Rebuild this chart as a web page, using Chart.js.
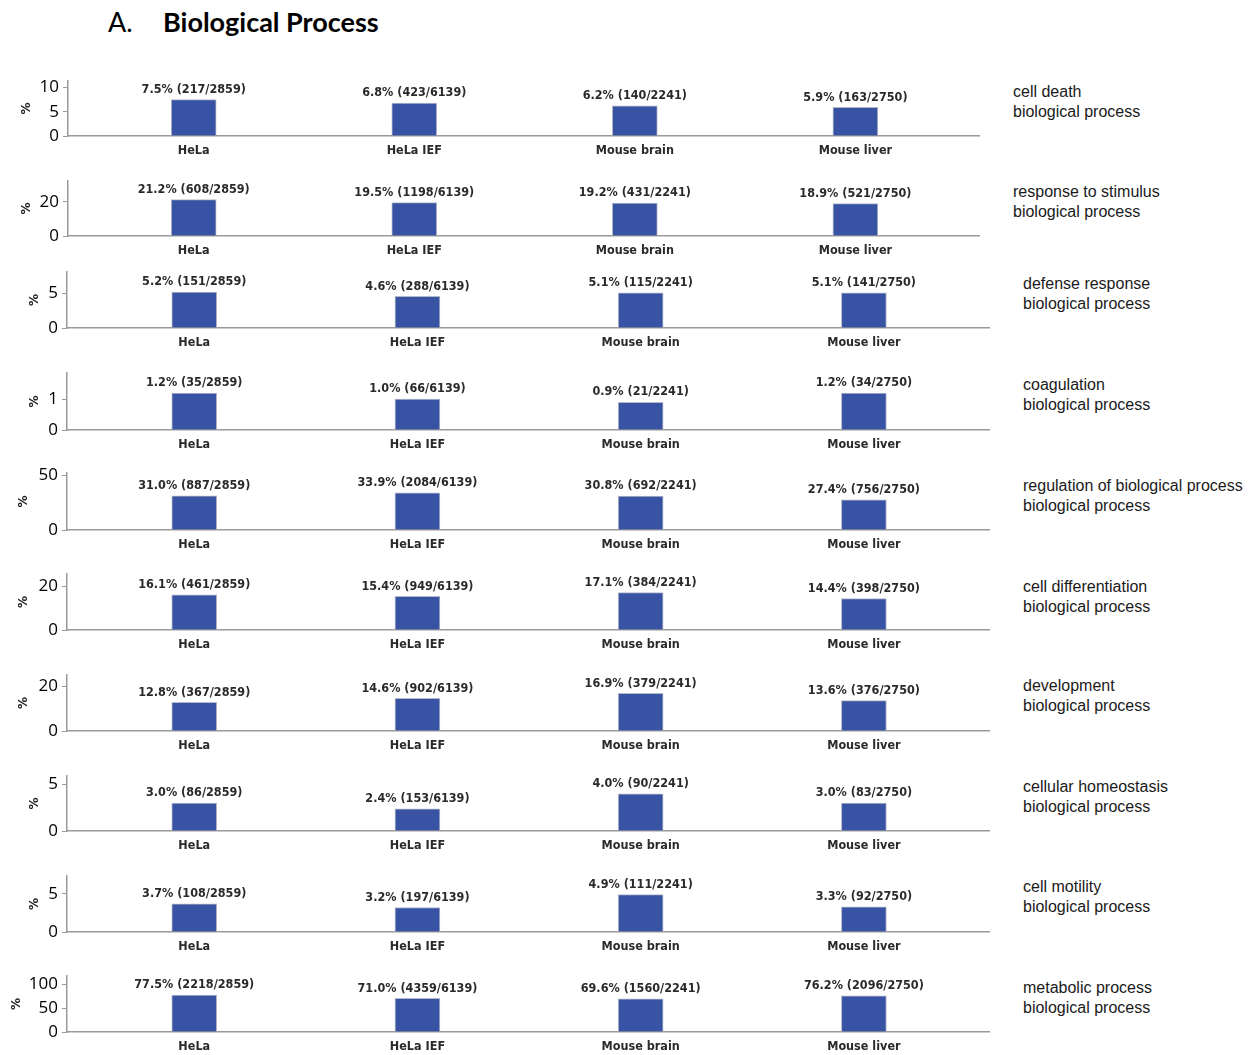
<!DOCTYPE html>
<html>
<head>
<meta charset="utf-8">
<title>Biological Process</title>
<script src="https://cdn.jsdelivr.net/npm/chart.js@4.4.1/dist/chart.umd.min.js"></script>
<style>
    body {
        margin: 0;
        background: #fff;
        width: 1254px;
        height: 1055px;
        position: relative;
        overflow: hidden;
    }
    .heading {
        position: absolute;
        top: 5px;
        font-family: Lato, "Open Sans", sans-serif;
        font-size: 27px;
        line-height: 34px;
        color: #000;
    }
    .panel {
        position: absolute;
        left: 0;
    }
    .term {
        position: absolute;
        font-family: "Liberation Sans", Arial, sans-serif;
        font-size: 16px;
        line-height: 20px;
        color: #1a1a1a;
        white-space: nowrap;
    }
</style>
</head>
<body>
<div class="heading" style="left:108px">A.</div>
<div class="heading" style="left:163px;font-weight:bold">Biological Process</div>
<div id="panels"></div>

<script>
// samples and their protein totals
const categories = ['HeLa', 'HeLa IEF', 'Mouse brain', 'Mouse liver'];
const totals = [2859, 6139, 2241, 2750];

// GO terms, one panel each
const terms = [
    'cell death',
    'response to stimulus',
    'defense response',
    'coagulation',
    'regulation of biological process',
    'cell differentiation',
    'development',
    'cellular homeostasis',
    'cell motility',
    'metabolic process'
];

// percent of proteins per sample, and the matching counts
const cellDeathPct = [7.5, 6.8, 6.2, 5.9];
const cellDeathCount = [217, 423, 140, 163];
const stimulusPct = [21.2, 19.5, 19.2, 18.9];
const stimulusCount = [608, 1198, 431, 521];
const defensePct = [5.2, 4.6, 5.1, 5.1];
const defenseCount = [151, 288, 115, 141];
const coagulationPct = [1.2, 1.0, 0.9, 1.2];
const coagulationCount = [35, 66, 21, 34];
const regulationPct = [31.0, 33.9, 30.8, 27.4];
const regulationCount = [887, 2084, 692, 756];
const differentiationPct = [16.1, 15.4, 17.1, 14.4];
const differentiationCount = [461, 949, 384, 398];
const developmentPct = [12.8, 14.6, 16.9, 13.6];
const developmentCount = [367, 902, 379, 376];
const homeostasisPct = [3.0, 2.4, 4.0, 3.0];
const homeostasisCount = [86, 153, 90, 83];
const motilityPct = [3.7, 3.2, 4.9, 3.3];
const motilityCount = [108, 197, 111, 92];
const metabolicPct = [77.5, 71.0, 69.6, 76.2];
const metabolicCount = [2218, 4359, 1560, 2096];

const pctSeries = [cellDeathPct, stimulusPct, defensePct, coagulationPct, regulationPct,
    differentiationPct, developmentPct, homeostasisPct, motilityPct, metabolicPct];
const countSeries = [cellDeathCount, stimulusCount, defenseCount, coagulationCount, regulationCount,
    differentiationCount, developmentCount, homeostasisCount, motilityCount, metabolicCount];

// y axis range and tick labels per panel
const yAxisMax = [11.3, 32, 8.1, 1.84, 51.7, 25.5, 25, 5.9, 7.3, 117.5];
const yAxisTicks = [[0, 5, 10], [0, 20], [0, 5], [0, 1], [0, 50], [0, 20], [0, 20], [0, 5], [0, 5], [0, 50, 100]];

// page layout of each panel
const panelTop = [77, 177, 268, 369, 469, 570, 671, 772, 872, 972];
const panelBottom = [136, 236, 328, 430, 530, 630, 731, 831, 932, 1032];
const axisLeft = [68, 68, 67, 67, 67, 67, 67, 67, 67, 67];
const axisRight = [980, 980, 990, 990, 990, 990, 990, 990, 990, 990];
const percentX = [27, 27, 35, 35, 24, 24, 24, 35, 35, 17];
const termLeft = [1013, 1013, 1023, 1023, 1023, 1023, 1023, 1023, 1023, 1023];
const termTop = [82, 182, 274, 375, 476, 577, 676, 777, 877, 978];

const labelFont = '"DejaVu Sans Condensed", "DejaVu Sans", sans-serif';

const barLabels = {
    id: 'barLabels',
    afterDatasetsDraw(chart, args, opts) {
        const ctx = chart.ctx;
        const meta = chart.getDatasetMeta(0);
        ctx.save();
        ctx.font = 'bold 12.5px ' + labelFont;
        ctx.fillStyle = '#2a2a2a';
        ctx.textAlign = 'center';
        ctx.textBaseline = 'middle';
        meta.data.forEach(function (bar, i) {
            ctx.fillText(opts.texts[i], bar.x, bar.y - 10);
        });
        ctx.restore();
    }
};

document.addEventListener('DOMContentLoaded', function () {
    drawCharts();
    drawTerms();
});

function drawCharts() {
    const holder = document.getElementById('panels');

    terms.forEach(function (term, p) {
        const pct = pctSeries[p];
        const counts = countSeries[p];
        const height = 10 + (panelBottom[p] - panelTop[p]) + 30;

        const canvas = document.createElement('canvas');
        canvas.className = 'panel';
        canvas.width = axisRight[p];
        canvas.height = height;
        canvas.style.top = (panelTop[p] - 10) + 'px';
        holder.appendChild(canvas);

        const texts = pct.map(function (v, i) {
            return v.toFixed(1) + '% (' + counts[i] + '/' + totals[i] + ')';
        });

        new Chart(canvas, {
            type: 'bar',
            data: {
                datasets: [{
                    label: term,
                    data: pct.map(function (v, i) { return { x: i, y: v }; }),
                    backgroundColor: '#3953A4',
                    borderColor: '#b4b9c8',
                    borderWidth: 1,
                    barThickness: 45
                }]
            },
            plugins: [barLabels],
            options: {
                responsive: false,
                animation: false,
                layout: {
                    padding: { top: 10, right: 0, bottom: 0, left: 0 }
                },
                plugins: {
                    legend: { display: false },
                    tooltip: { enabled: false },
                    barLabels: { texts: texts }
                },
                scales: {
                    x: {
                        type: 'linear',
                        offset: false,
                        min: -0.57,
                        max: 3.565,
                        afterBuildTicks: function (scale) {
                            scale.ticks = categories.map(function (c, i) { return { value: i }; });
                        },
                        afterFit: function (scale) {
                            scale.height = 30;
                        },
                        grid: { display: false, drawTicks: false },
                        border: { display: true, color: '#9a9a9a', width: 1.5 },
                        ticks: {
                            padding: 7,
                            color: '#2a2a2a',
                            font: { family: labelFont, size: 12.5, weight: 'bold' },
                            callback: function (v) { return categories[v]; }
                        }
                    },
                    y: {
                        min: 0,
                        max: yAxisMax[p],
                        afterBuildTicks: function (scale) {
                            scale.ticks = yAxisTicks[p].map(function (v) { return { value: v }; });
                        },
                        afterFit: function (scale) {
                            scale.width = axisLeft[p];
                        },
                        grid: { drawOnChartArea: false, drawTicks: true, tickLength: 5, color: '#9a9a9a' },
                        border: { display: true, color: '#9a9a9a', width: 1.5 },
                        ticks: {
                            padding: 4,
                            color: '#000',
                            font: { family: 'Open Sans', size: 17 }
                        },
                        title: {
                            display: true,
                            text: '%',
                            color: '#222',
                            font: { family: 'DejaVu Sans', size: 12, weight: 'bold', lineHeight: 1.2 },
                            padding: { top: percentX[p] - 7.2, bottom: 0 }
                        }
                    }
                }
            }
        });
    });
}

function drawTerms() {
    const holder = document.getElementById('panels');
    terms.forEach(function (term, p) {
        const div = document.createElement('div');
        div.className = 'term';
        div.style.left = termLeft[p] + 'px';
        div.style.top = termTop[p] + 'px';
        div.innerHTML = term + '<br>biological process';
        holder.appendChild(div);
    });
}
</script>
</body>
</html>
